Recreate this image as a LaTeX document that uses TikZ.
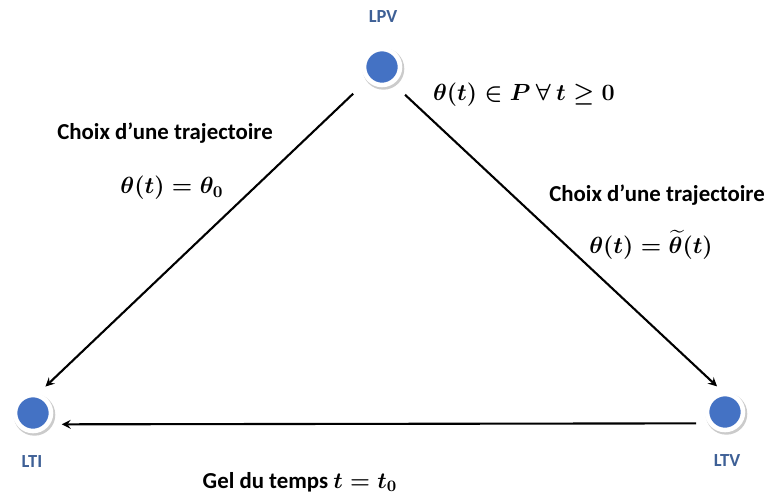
\RequirePackage{fix-cm}
\documentclass[tikz,border=0pt]{standalone}
\usepackage{amsmath}
\usepackage{fontspec}
\setmainfont{Carlito}
\usetikzlibrary{arrows, positioning, shadows}
\definecolor{dotblue}{RGB}{68,114,196}
\definecolor{labelblue}{RGB}{62,96,150}

\tikzset{
    sysdot/.style={circle, fill=dotblue, draw=white, line width=2.6pt, minimum size=0.72cm, inner sep=0pt,
        drop shadow={opacity=0.45, fill=black!45, shadow scale=1.16, shadow xshift=0.7pt, shadow yshift=-0.9pt}},
    syslabel/.style={font=\fontsize{10.5}{12}\selectfont\bfseries, text=labelblue},
    pathtext/.style={font=\fontsize{13}{15}\selectfont\bfseries\boldmath, text=black, inner sep=1pt},
    mathtext/.style={font=\fontsize{13.3}{15}\selectfont\boldmath, text=black, inner sep=1pt},
    link/.style={-stealth, line width=1.2pt, black}
}

\begin{document}
\begin{tikzpicture}[x=0.02cm, y=-0.02cm]
    \useasboundingbox (0,0) rectangle (768,498);

    % the three systems
    \node[sysdot] (lpv) at (382,67) {};
    \node[sysdot] (lti) at (33,413) {};
    \node[sysdot] (ltv) at (725,412) {};
    \node[syslabel] (lpvname) at (383,17) {LPV};
    \node[syslabel] (ltiname) at (32,462) {LTI};
    \node[syslabel] (ltvname) at (727,461) {LTV};

    % arrows
    \draw[link, shorten <=0.38cm, shorten >=0.2cm] (lpv.222) -- (lti.75);
    \draw[link, shorten <=0.32cm, shorten >=0.16cm] (lpv.304) -- (ltv.96);
    \draw[link, shorten <=0.24cm, shorten >=0.24cm] (ltv.214) -- (lti.326);

    % texts
    \node[mathtext, anchor=west] (domain) at (431,95) {$\theta(t)\in \boldsymbol{P}\ \forall\ t\geq 0$};
    \node[pathtext] (leftchoice) at (165,133) {Choix d’une trajectoire};
    \node[mathtext] (leftlaw) at (172,188) {$\theta(t)=\theta_0$};
    \node[pathtext] (rightchoice) at (657,195) {Choix d’une trajectoire};
    \node[mathtext] (rightlaw) at (651,245) {$\theta(t)=\widetilde{\theta}(t)$};
    \node[pathtext] (freeze) at (300,482) {Gel du temps $t=t_0$};
\end{tikzpicture}
\end{document}
